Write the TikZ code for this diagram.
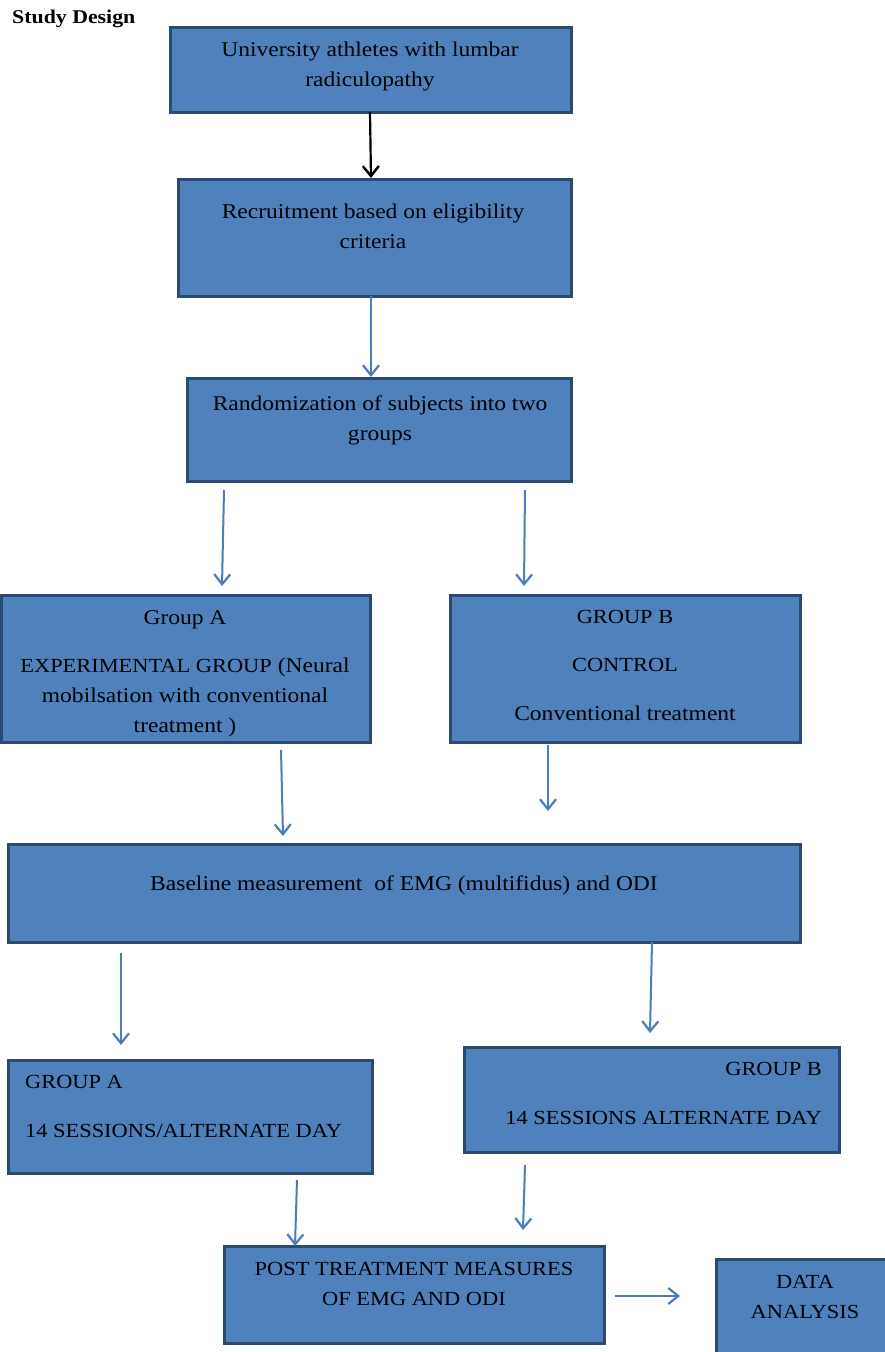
\documentclass[tikz,border=0pt]{standalone}
\usepackage{fontspec}
\setmainfont{Liberation Serif}[FakeStretch=1.12]
\usetikzlibrary{arrows.meta}
\definecolor{boxfill}{HTML}{4F81BD}
\definecolor{boxline}{HTML}{2A4A70}
\definecolor{arrowblue}{HTML}{4A7EBB}
\tikzset{
  box/.style={draw=boxline, fill=boxfill, line width=3pt, rectangle, inner sep=0pt},
  txt/.style={inner sep=0pt, font=\fontsize{21}{30}\selectfont, text=black},
  captxt/.style={inner sep=0pt, font=\fontsize{20}{30}\selectfont, text=black},
  blarrow/.style={draw=arrowblue, line width=2pt, -{Straight Barb[length=10pt,width=16pt,line width=2.2pt]}},
  bkarrow/.style={draw=black, line width=2.2pt, -{Straight Barb[length=10pt,width=16pt,line width=2.4pt]}}
}
\begin{document}
\begin{tikzpicture}[x=1pt,y=-1pt]
\useasboundingbox (0,0) rectangle (885,1352);
\node[inner sep=0pt, anchor=west, font=\fontsize{19.5}{22}\selectfont\bfseries] (title) at (12,18.5) {Study Design};

% boxes
\node[box, minimum width=401pt, minimum height=85pt] (b1) at (370.5,69.5) {};
\node[box, minimum width=393pt, minimum height=117pt] (b2) at (374.5,237.5) {};
\node[box, minimum width=384pt, minimum height=103pt] (b3) at (379,429.5) {};
\node[box, minimum width=369pt, minimum height=147pt] (b4) at (186,668.5) {};
\node[box, minimum width=350pt, minimum height=147pt] (b5) at (625,668.5) {};
\node[box, minimum width=792pt, minimum height=98pt] (b6) at (404,893) {};
\node[box, minimum width=364pt, minimum height=113pt] (b7) at (190,1116.5) {};
\node[box, minimum width=375pt, minimum height=105pt] (b8) at (651.5,1099.5) {};
\node[box, minimum width=380pt, minimum height=97pt] (b9) at (414,1294.5) {};
\node[box, minimum width=184pt, minimum height=110pt] (b10) at (808,1314) {};

% texts
\node[txt, anchor=north, align=center] (t1) at (370,42) {University athletes with lumbar\\radiculopathy};
\node[txt, anchor=north, align=center] (t2) at (373,204) {Recruitment based on eligibility\\criteria};
\node[txt, anchor=north, align=center] (t3) at (380,396) {Randomization of subjects into two\\groups};
\node[txt, anchor=north, align=center] (t4) at (185,610) {Group A\\[18pt]{\fontsize{20}{30}\selectfont EXPERIMENTAL GROUP} (Neural\\mobilsation with conventional\\treatment )};
\node[captxt, anchor=north, align=center] (t5) at (625,610) {GROUP B\\[18pt]CONTROL\\[19pt]{\fontsize{21}{30}\selectfont Conventional treatment}};
\node[txt, anchor=north] (t6) at (404,876) {Baseline measurement\ \ of EMG (multifidus) and ODI};
\node[captxt, anchor=north west, align=left] (t7) at (25,1075) {GROUP A\\[19pt]14 SESSIONS/ALTERNATE DAY};
\node[captxt, anchor=north east, align=right] (t8) at (822,1062) {GROUP B\\[19pt]14 SESSIONS ALTERNATE DAY};
\node[captxt, anchor=north, align=center] (t9) at (414,1262) {POST TREATMENT MEASURES\\OF EMG AND ODI};
\node[captxt, anchor=north, align=center] (t10) at (805,1275) {DATA\\ANALYSIS};

% arrow end points
\coordinate (a1s) at (370,112); \coordinate (a1e) at (371,178);
\coordinate (a2s) at (371,296); \coordinate (a2e) at (371,377);
\coordinate (a3s) at (224,490); \coordinate (a3e) at (222,586);
\coordinate (a4s) at (525,490); \coordinate (a4e) at (524,586);
\coordinate (a5s) at (281,750); \coordinate (a5e) at (283,836);
\coordinate (a6s) at (548,745); \coordinate (a6e) at (548,811);
\coordinate (a7s) at (121,953); \coordinate (a7e) at (121,1045);
\coordinate (a8s) at (652,942); \coordinate (a8e) at (650,1033);
\coordinate (a9s) at (297,1180); \coordinate (a9e) at (295,1246);
\coordinate (a10s) at (525,1165); \coordinate (a10e) at (523,1230);
\coordinate (a11s) at (615,1296); \coordinate (a11e) at (680,1296);

\draw[bkarrow] (a1s) -- (a1e);
\draw[blarrow] (a2s) -- (a2e);
\draw[blarrow] (a3s) -- (a3e);
\draw[blarrow] (a4s) -- (a4e);
\draw[blarrow] (a5s) -- (a5e);
\draw[blarrow] (a6s) -- (a6e);
\draw[blarrow] (a7s) -- (a7e);
\draw[blarrow] (a8s) -- (a8e);
\draw[blarrow] (a9s) -- (a9e);
\draw[blarrow] (a10s) -- (a10e);
\draw[blarrow] (a11s) -- (a11e);
\end{tikzpicture}
\end{document}
